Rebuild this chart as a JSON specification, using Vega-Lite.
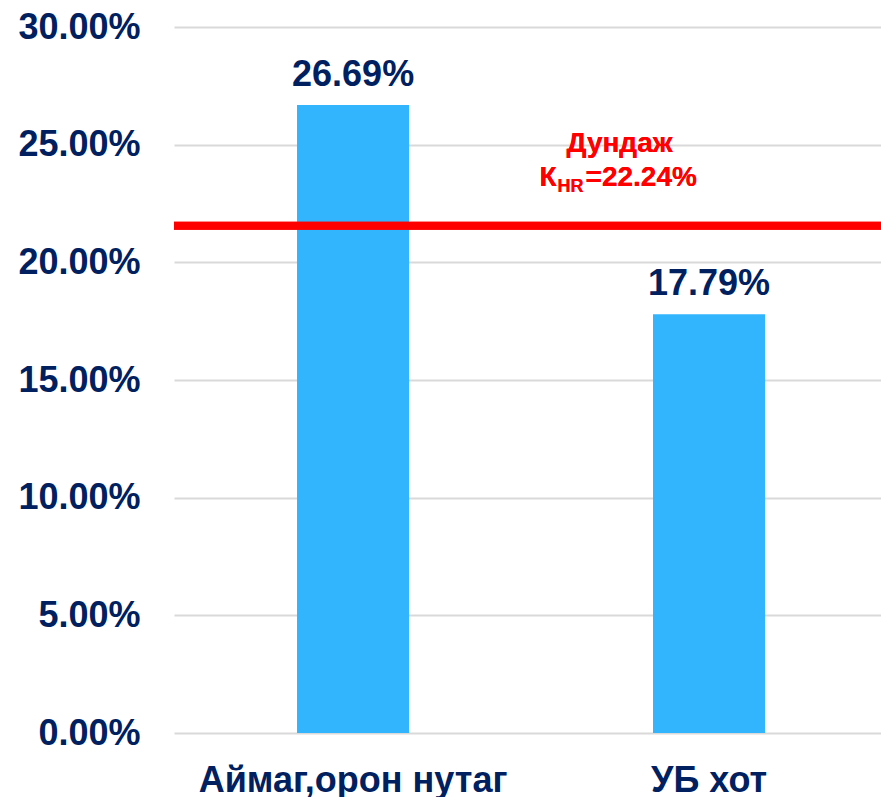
{
  "$schema": "https://vega.github.io/schema/vega-lite/v6.json",
  "width": 707,
  "height": 706,
  "autosize": "none",
  "padding": {"left": 174, "top": 27, "right": 0, "bottom": 64},
  "background": "white",
  "config": {
    "view": {"stroke": null},
    "font": "Liberation Sans"
  },
  "data": {
    "values": [
      {"region": "Аймаг,орон нутаг", "share": 0.2669},
      {"region": "УБ хот", "share": 0.1779}
    ]
  },
  "encoding": {
    "x": {
      "field": "region",
      "type": "nominal",
      "sort": null,
      "scale": {"paddingInner": 0.685, "paddingOuter": 0.3355, "align": 0.515},
      "axis": {
        "title": null,
        "labelAngle": 0,
        "domain": false,
        "ticks": false,
        "labelFont": "Liberation Sans",
        "labelFontWeight": "bold",
        "labelFontSize": 36,
        "labelColor": "#002060",
        "labelPadding": 30,
        "labelLimit": 0
      }
    },
    "y": {
      "field": "share",
      "type": "quantitative",
      "scale": {"domain": [0, 0.3], "nice": false},
      "axis": {
        "title": null,
        "format": ".2%",
        "values": [0, 0.05, 0.1, 0.15, 0.2, 0.25, 0.3],
        "domain": false,
        "ticks": false,
        "grid": true,
        "gridColor": "#d9d9d9",
        "gridWidth": 2,
        "labelFont": "Liberation Sans",
        "labelFontWeight": "bold",
        "labelFontSize": 36,
        "labelColor": "#002060",
        "labelPadding": 34
      }
    }
  },
  "layer": [
    {"mark": {"type": "bar", "color": "#33B5FE"}},
    {
      "mark": {"type": "text", "font": "Liberation Sans", "fontWeight": "bold", "fontSize": 36, "color": "#002060", "baseline": "alphabetic", "dy": -19},
      "encoding": {"text": {"field": "share", "type": "quantitative", "format": ".2%"}}
    },
    {
      "mark": {"type": "rule", "color": "#FF0000", "strokeWidth": 8},
      "encoding": {"x": null, "y": {"datum": 0.2155}}
    },
    {
      "mark": {"type": "text", "font": "Liberation Sans", "fontWeight": "bold", "fontSize": 28, "color": "#FF0000", "baseline": "alphabetic", "align": "center", "dx": -89.5, "dy": -74},
      "encoding": {"x": {"datum": "УБ хот"}, "y": {"datum": 0.2155}, "text": {"value": "Дундаж"}}
    },
    {
      "mark": {"type": "text", "font": "Liberation Sans", "fontWeight": "bold", "fontSize": 28, "color": "#FF0000", "baseline": "alphabetic", "align": "left", "dx": -169.5, "dy": -40},
      "encoding": {"x": {"datum": "УБ хот"}, "y": {"datum": 0.2155}, "text": {"value": "К"}}
    },
    {
      "mark": {"type": "text", "font": "Liberation Sans", "fontWeight": "bold", "fontSize": 18, "color": "#FF0000", "baseline": "alphabetic", "align": "left", "dx": -151.5, "dy": -34},
      "encoding": {"x": {"datum": "УБ хот"}, "y": {"datum": 0.2155}, "text": {"value": "HR"}}
    },
    {
      "mark": {"type": "text", "font": "Liberation Sans", "fontWeight": "bold", "fontSize": 28, "color": "#FF0000", "baseline": "alphabetic", "align": "left", "dx": -123.5, "dy": -40},
      "encoding": {"x": {"datum": "УБ хот"}, "y": {"datum": 0.2155}, "text": {"value": "=22.24%"}}
    }
  ]
}
